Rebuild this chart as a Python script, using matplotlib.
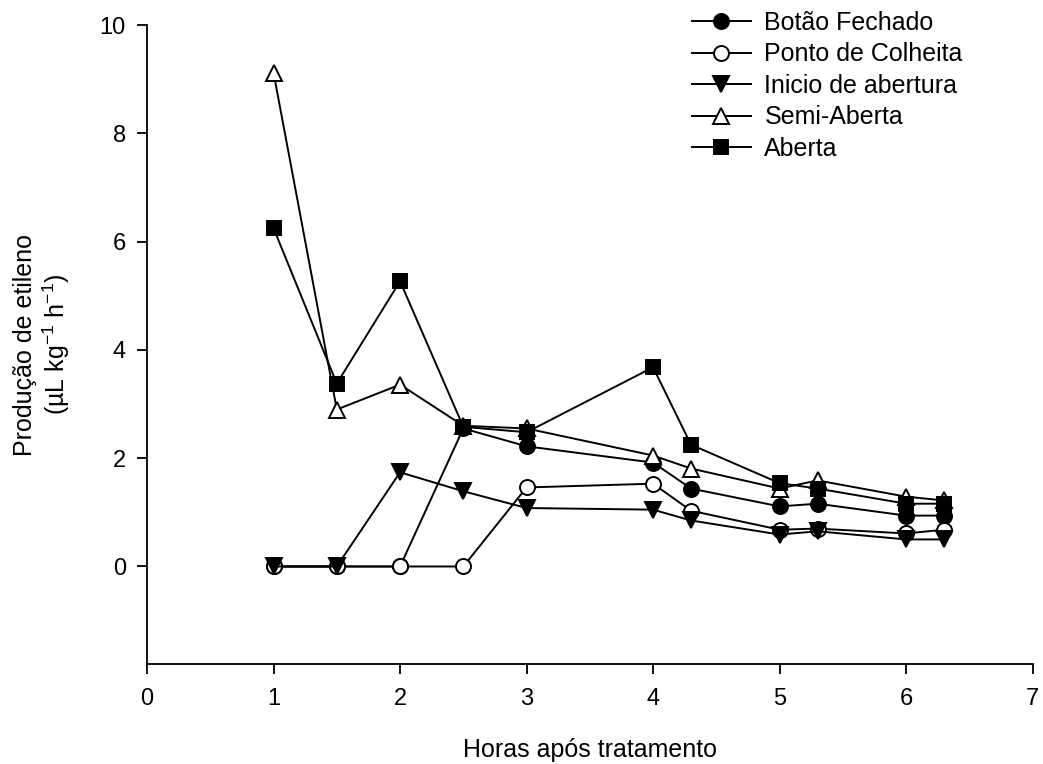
import matplotlib
matplotlib.use("Agg")
import matplotlib.pyplot as plt

plt.rcParams["font.family"] = ["Liberation Sans", "DejaVu Sans"]
plt.rcParams["mathtext.fontset"] = "custom"
plt.rcParams["mathtext.rm"] = "Liberation Sans"
plt.rcParams["mathtext.it"] = "Liberation Sans:italic"
plt.rcParams["mathtext.default"] = "regular"

# ── Data ──────────────────────────────────────────────────────────────────────
horas = [1, 1.5, 2, 2.5, 3, 4, 4.3, 5, 5.3, 6, 6.3]

botao_fechado   = [0, 0, 0, 2.55, 2.22, 1.92, 1.44, 1.11, 1.16, 0.94, 0.94]
ponto_colheita  = [0, 0, 0, 0, 1.46, 1.53, 1.03, 0.68, 0.70, 0.61, 0.68]
inicio_abertura = [0, 0, 1.74, 1.39, 1.08, 1.05, 0.85, 0.59, 0.65, 0.50, 0.50]
semi_aberta     = [9.12, 2.90, 3.36, 2.60, 2.55, 2.05, 1.81, 1.44, 1.59, 1.29, 1.22]
aberta          = [6.25, 3.38, 5.27, 2.58, 2.48, 3.68, 2.25, 1.54, 1.44, 1.16, 1.16]

series = [
    ("Botão Fechado", botao_fechado, "o", "black", 10.8),
    ("Ponto de Colheita", ponto_colheita, "o", "white", 10.8),
    ("Inicio de abertura", inicio_abertura, "v", "black", 11.5),
    ("Semi-Aberta", semi_aberta, "^", "white", 11.5),
    ("Aberta", aberta, "s", "black", 9.6),
]

TICK_FS = 17
LABEL_FS = 18

# ── Figure ────────────────────────────────────────────────────────────────────
fig = plt.figure(figsize=(10.43, 7.64), dpi=100)
ax = fig.add_axes([0.141, 0.131, 0.849, 0.836])

for label, vals, mk, face, ms in series:
    ax.plot(horas, vals, color="black", linewidth=1.4, marker=mk,
            markersize=ms, markerfacecolor=face, markeredgecolor="black",
            markeredgewidth=1.4, label=label, clip_on=False)

ax.set_xlim(0, 7)
ax.set_ylim(-1.8, 10)
ax.set_xticks(range(0, 8))
ax.set_yticks([0, 2, 4, 6, 8, 10])

for spine in ("top", "right"):
    ax.spines[spine].set_visible(False)
for spine in ("left", "bottom"):
    ax.spines[spine].set_linewidth(1.3)
ax.tick_params(direction="out", length=7.2, width=1.3, labelsize=TICK_FS)
ax.tick_params(axis="y", pad=8)
ax.tick_params(axis="x", pad=10)

ax.set_xlabel("Horas após tratamento", fontsize=LABEL_FS, labelpad=20)
ax.set_ylabel("Produção de etileno\n(µL kg$^{-1}$ h$^{-1}$)", fontsize=LABEL_FS,
              labelpad=20, linespacing=1.15)

ax.legend(loc="upper left", bbox_to_anchor=(0.604, 1.038), frameon=False,
          fontsize=LABEL_FS, handlelength=2.35, handletextpad=0.55,
          labelspacing=0.3, borderaxespad=0)

fig.savefig("out.png", dpi=100, facecolor="white")
